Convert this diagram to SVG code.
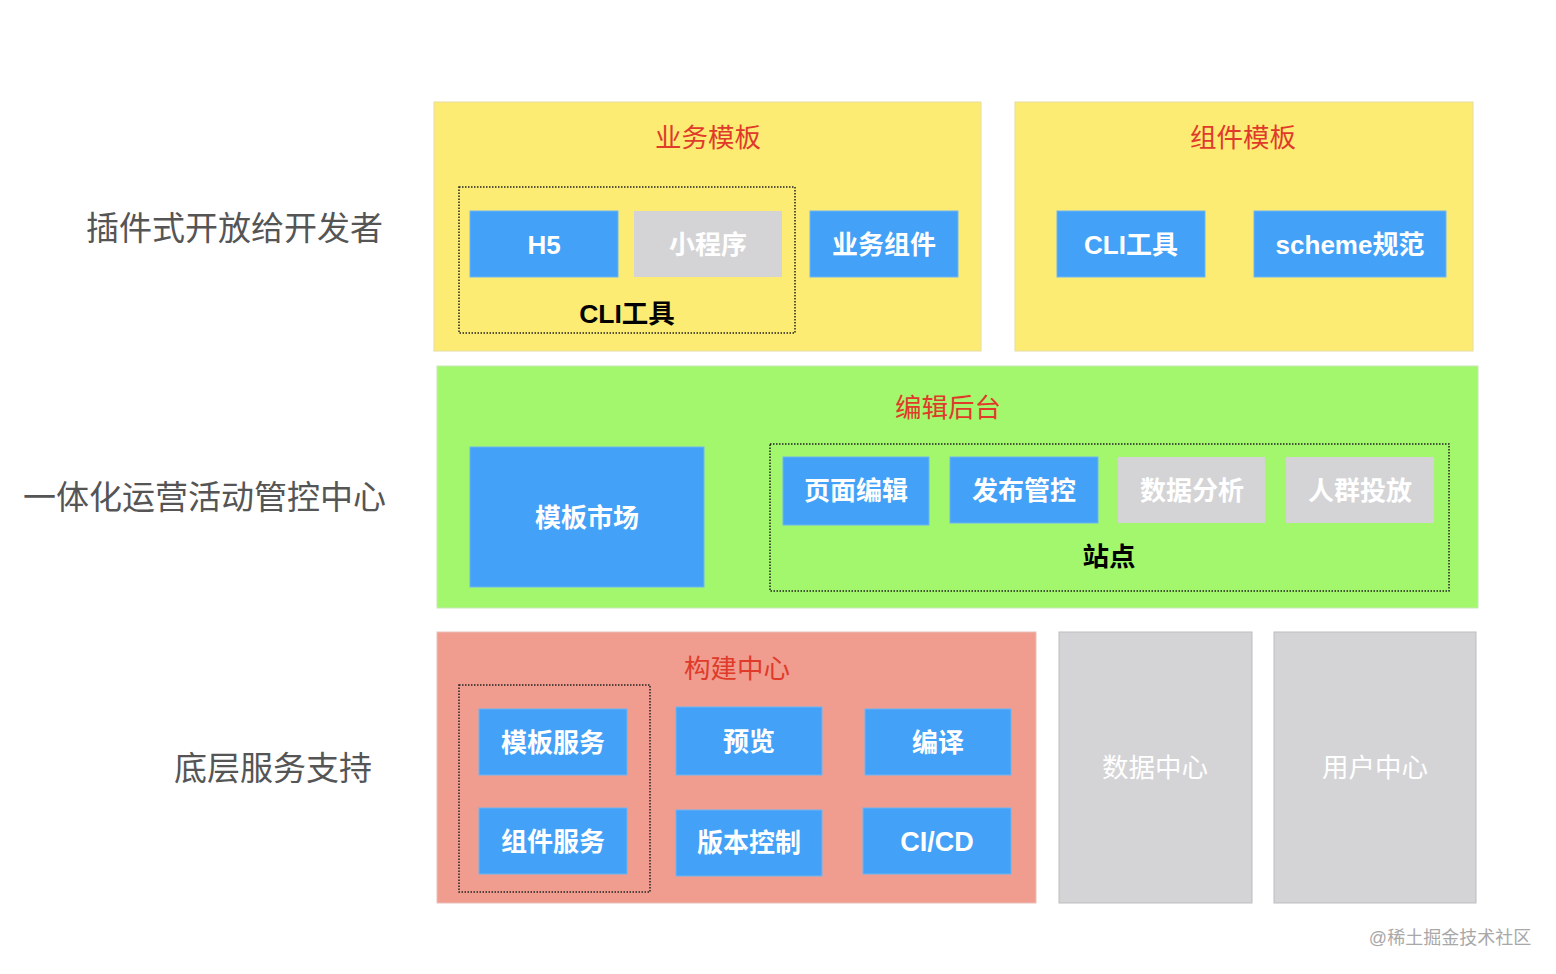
<svg xmlns="http://www.w3.org/2000/svg" width="1556" height="974" viewBox="0 0 1556 974">
<style>
text{font-family:"Liberation Sans","Noto Sans CJK SC",sans-serif;text-anchor:middle;dominant-baseline:central}
.yel{fill:#fcec74;stroke:#e6dca0;stroke-width:1}
.grn{fill:#a3f76c;stroke:#c9e6b8;stroke-width:1}
.red{fill:#f09c8f;stroke:#e8c0b8;stroke-width:1}
.gry{fill:#d4d4d6;stroke:#bdbdbf;stroke-width:1}
.blue{fill:#43a1f7;stroke:#6cb6f5;stroke-width:1}
.gbox{fill:#d4d4d6}
.dot{fill:none;stroke:#222;stroke-width:1.5;stroke-dasharray:1.5 1.5}
.t{fill:#e03a2a;font-size:26.5px}
.w{fill:#fff;font-size:26px;font-weight:bold}
.wl{fill:#fff;font-size:26.5px}
.b{fill:#000;font-size:26.5px;font-weight:bold}
.side{fill:#555;font-size:33px;text-anchor:end}
</style>
<rect width="1556" height="974" fill="#fff"/>
<g id="label-plugins"><text class="side" x="383" y="228">插件式开放给开发者</text></g>
<g id="label-ops"><text class="side" x="386" y="497">一体化运营活动管控中心</text></g>
<g id="label-base"><text class="side" x="372" y="768">底层服务支持</text></g>

<g id="biz-template">
<rect class="yel" x="434" y="102" width="547" height="249"/>
<text class="t" x="708" y="138">业务模板</text>
<rect class="dot" x="459" y="187" width="336" height="146"/>
<text class="b" x="627" y="314">CLI工具</text>
</g>
<g id="h5"><rect class="blue" x="470" y="211" width="148" height="66"/><text class="w" x="544" y="245">H5</text></g>
<g id="miniprogram"><rect class="gbox" x="634" y="211" width="148" height="66"/><text class="w" x="708" y="245">小程序</text></g>
<g id="biz-component"><rect class="blue" x="810" y="211" width="148" height="66"/><text class="w" x="884" y="245">业务组件</text></g>

<g id="comp-template">
<rect class="yel" x="1015" y="102" width="458" height="249"/>
<text class="t" x="1243" y="138">组件模板</text>
</g>
<g id="cli-tool"><rect class="blue" x="1057" y="211" width="148" height="66"/><text class="w" x="1131" y="245">CLI工具</text></g>
<g id="scheme"><rect class="blue" x="1254" y="211" width="192" height="66"/><text class="w" x="1350" y="245">scheme规范</text></g>

<g id="editor-backend">
<rect class="grn" x="437" y="366" width="1041" height="242"/>
<text class="t" x="948" y="408">编辑后台</text>
<rect class="dot" x="770" y="444" width="679" height="147"/>
<text class="b" x="1109" y="557">站点</text>
</g>
<g id="template-market"><rect class="blue" x="470" y="447" width="234" height="140"/><text class="w" x="587" y="518">模板市场</text></g>
<g id="page-edit"><rect class="blue" x="783" y="457" width="146" height="68"/><text class="w" x="856" y="491">页面编辑</text></g>
<g id="publish"><rect class="blue" x="950" y="457" width="148" height="66"/><text class="w" x="1024" y="491">发布管控</text></g>
<g id="data-analysis"><rect class="gbox" x="1118" y="457" width="147" height="66"/><text class="w" x="1192" y="491">数据分析</text></g>
<g id="crowd"><rect class="gbox" x="1286" y="457" width="148" height="66"/><text class="w" x="1360" y="491">人群投放</text></g>

<g id="build-center">
<rect class="red" x="437" y="632" width="599" height="271"/>
<text class="t" x="737" y="669">构建中心</text>
<rect class="dot" x="459" y="685" width="191" height="207"/>
</g>
<g id="tpl-service"><rect class="blue" x="479" y="709" width="148" height="66"/><text class="w" x="553" y="743">模板服务</text></g>
<g id="comp-service"><rect class="blue" x="479" y="808" width="148" height="66"/><text class="w" x="553" y="842">组件服务</text></g>
<g id="preview"><rect class="blue" x="676" y="707" width="146" height="68"/><text class="w" x="749" y="742">预览</text></g>
<g id="version"><rect class="blue" x="676" y="810" width="146" height="66"/><text class="w" x="749" y="843">版本控制</text></g>
<g id="compile"><rect class="blue" x="865" y="709" width="146" height="66"/><text class="w" x="938" y="743">编译</text></g>
<g id="cicd"><rect class="blue" x="863" y="808" width="148" height="66"/><text class="w" x="937" y="842" style="font-size:27px">CI/CD</text></g>

<g id="data-center"><rect class="gry" x="1059" y="632" width="193" height="271"/><text class="wl" x="1155" y="768">数据中心</text></g>
<g id="user-center"><rect class="gry" x="1274" y="632" width="202" height="271"/><text class="wl" x="1375" y="768">用户中心</text></g>

<g id="connectors"></g>
<text x="1450" y="938" style="fill:#a8a8a8;font-size:18px">@稀土掘金技术社区</text>
</svg>
